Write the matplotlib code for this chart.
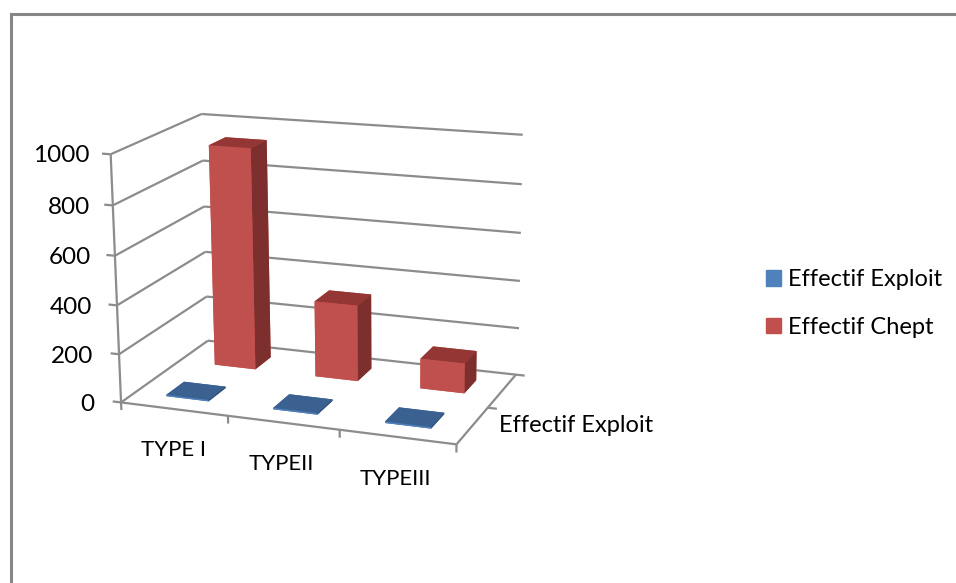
import matplotlib
matplotlib.use('Agg')
import matplotlib.pyplot as plt
from matplotlib.patches import Patch, Rectangle
from mpl_toolkits.mplot3d import proj3d

plt.rcParams['font.family'] = ['Lato', 'DejaVu Sans']

types = ['TYPE I', 'TYPEII', 'TYPEIII']
effectif_exploit = [6, 6, 6]
effectif_chept = [935, 320, 125]
z_ticks = [0, 200, 400, 600, 800, 1000]
series_names = ['Effectif Exploit', 'Effectif Chept']

W, H = 956, 583
GRID = '#8c8c8c'
# faces in bar3d order: bottom, top, front, back, left, right
BLUE_FACES = ['#3a6190', '#3a6190', '#4f81bd', '#3a6190', '#3a6190', '#2f5078']
RED_FACES = ['#c0504d', '#933634', '#c0504d', '#c0504d', '#c0504d', '#7c2f2d']

fig = plt.figure(figsize=(W / 100, H / 100), dpi=100)
ax = fig.add_axes([81.04 / W, 74.76 / H, 466.84 / W, 466.84 / H], projection='3d')
ax.set_xlim(0, 3)
ax.set_ylim(0, 2)
ax.set_zlim(0, 1000)
ax.set_xticks([])
ax.set_yticks([])
ax.set_zticks([])
ax.set_box_aspect((1, 0.605, 0.725))
ax.view_init(15.76, -68.95, 0.62)
ax.set_proj_type('persp', focal_length=0.742)
ax.set_axis_off()
ax.computed_zorder = False


def seg(a, b):
    ax.plot(*zip(a, b), color=GRID, lw=1.6, zorder=1, solid_capstyle='butt')


def label(x, y, z, s, **kw):
    # flat text placed at a projected 3d position
    u, v, _ = proj3d.proj_transform(x, y, z, ax.get_proj())
    ax.text2D(u, v, s, transform=ax.transData, va='center', color='black', **kw)


# walls and floor
for z in z_ticks:
    seg((0, 0, z), (0, 2, z))
    seg((0, 2, z), (3.02 if z else 3, 2, z))
    seg((0, 0, z), (-0.08, 0, z))
    label(-0.26 + 0.06 * z / 1000, 0, z - 24 + 0.012 * z, str(z), ha='right', fontsize=17.5)
seg((0, 0, 0), (0, 0, 1000))
seg((0, 0, 0), (3, 0, 0))
seg((3, 0, 0), (3, 2, 0))
for x in [0, 1, 2, 3]:
    seg((x, 0, 0), (x, 0, -32))
for y in [1, 2]:
    seg((3, y, 0), (3.08, y, 0))

# bars, drawn row by row from the back
width = 0.4
for i, v in enumerate(effectif_chept):
    ax.bar3d(0.35 + i * 0.98, 1.31, 0, width, width, v, color=RED_FACES, shade=False, zorder=3, linewidth=0)
for i, v in enumerate(effectif_exploit):
    ax.bar3d(i + 0.3, 0.3, 0, width, width, v, color=BLUE_FACES, shade=False, zorder=4, linewidth=0)

for i, name in enumerate(types):
    label(i + 0.48, 0, -170, name, ha='center', fontsize=16)
label(3.1, 1.0, -70, series_names[0], ha='left', fontsize=17)

handles = [Patch(color='#4f81bd'), Patch(color='#c0504d')]
fig.legend(handles, series_names, loc='center left', bbox_to_anchor=(744.75 / W, 1 - 303.5 / H),
           frameon=False, fontsize=17, handlelength=0.64, handleheight=0.64,
           handletextpad=0.3, labelspacing=1.14)

# outer frame, only the top and left edges fall inside the canvas
fig.add_artist(Rectangle((10.5 / W, -0.2), 1.2, 1.2 - 14 / H, transform=fig.transFigure,
                         fill=False, edgecolor='#868686', lw=2.2))

fig.savefig('out.png', dpi=100)
